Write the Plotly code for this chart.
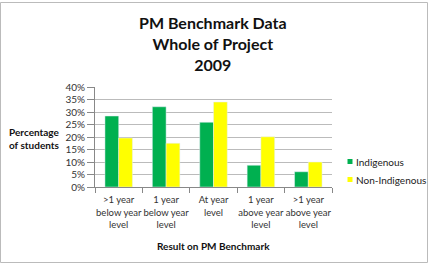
import plotly.graph_objects as go

categories = [">1 year<br>below year<br>level", "1 year<br>below year<br>level", "At year<br>level",
              "1 year<br>above year<br>level", ">1 year<br>above year<br>level"]
indigenous = [28.4, 32.1, 25.9, 8.7, 6.1]
non_indigenous = [19.6, 17.5, 34.0, 20.1, 10.0]
series_names = ["Indigenous", "Non-Indigenous"]
series_colors = ["#00B050", "#FFFF00"]
y_ticks = [0, 5, 10, 15, 20, 25, 30, 35, 40]

FONT = "Lato, 'Open Sans', sans-serif"

fig = go.Figure()
for name, vals, col in zip(series_names, [indigenous, non_indigenous], series_colors):
    fig.add_trace(go.Bar(x=categories, y=vals, name=name, marker_color=col, showlegend=False))

L, R, T, B = 95, 332, 87, 187
pw, ph = R - L, B - T

def px(x):
    return (x - L) / pw

def py(y):
    return (B - y) / ph

annotations = [
    dict(text="<b>PM Benchmark Data<br>Whole of Project<br>2009</b>", x=px(213), y=py(43),
         xref="paper", yref="paper", showarrow=False, xanchor="center", yanchor="middle",
         font=dict(size=16, color="#111", family=FONT), align="center"),
    dict(text="<b>Percentage<br>of students</b>", x=px(35), y=py(138),
         xref="paper", yref="paper", showarrow=False, xanchor="center", yanchor="middle",
         font=dict(size=10, color="#111", family=FONT), align="center"),
    dict(text="<b>Result on PM Benchmark</b>", x=px(213), y=py(246),
         xref="paper", yref="paper", showarrow=False, xanchor="center", yanchor="middle",
         font=dict(size=10, color="#111", family=FONT)),
]
shapes = [dict(type="rect", xref="paper", yref="paper",
               x0=px(0.5), x1=px(427.5), y0=py(262.5), y1=py(2.5),
               line=dict(color="#bbb", width=1), fillcolor="rgba(0,0,0,0)", layer="below")]

legend_y = [161.5, 179.5]
for name, col, ly in zip(series_names, series_colors, legend_y):
    shapes.append(dict(type="rect", xref="paper", yref="paper",
                       x0=px(347.5), x1=px(352.5), y0=py(ly + 2.5), y1=py(ly - 2.5),
                       line=dict(width=0), fillcolor=col))
    annotations.append(dict(text=name, x=px(354), y=py(ly), xref="paper", yref="paper",
                            showarrow=False, xanchor="left", yanchor="middle",
                            font=dict(size=10, color="#222", family=FONT)))

fig.update_layout(
    width=432, height=269,
    margin=dict(l=L, r=432 - R, t=T, b=269 - B),
    paper_bgcolor="white", plot_bgcolor="white",
    font=dict(family=FONT, size=10, color="#333"),
    barmode="group", bargap=0.42, bargroupgap=0,
    showlegend=False,
    xaxis=dict(showline=True, linecolor="#888", linewidth=1, ticks="outside",
               tickson="boundaries", ticklen=5, tickcolor="#888", tickangle=0,
               ticklabelstandoff=4,
               tickfont=dict(size=9.5, color="#333"), showgrid=False),
    yaxis=dict(range=[0, 40], tickvals=y_ticks, ticktext=[f"{v}%" for v in y_ticks],
               showline=True, linecolor="#888", ticks="outside", ticklen=7, tickcolor="#888",
               showgrid=True, gridcolor="#bbb", gridwidth=1,
               tickfont=dict(size=10, color="#333"), zeroline=False),
    annotations=annotations,
    shapes=shapes,
)

fig.write_html("out.html")
